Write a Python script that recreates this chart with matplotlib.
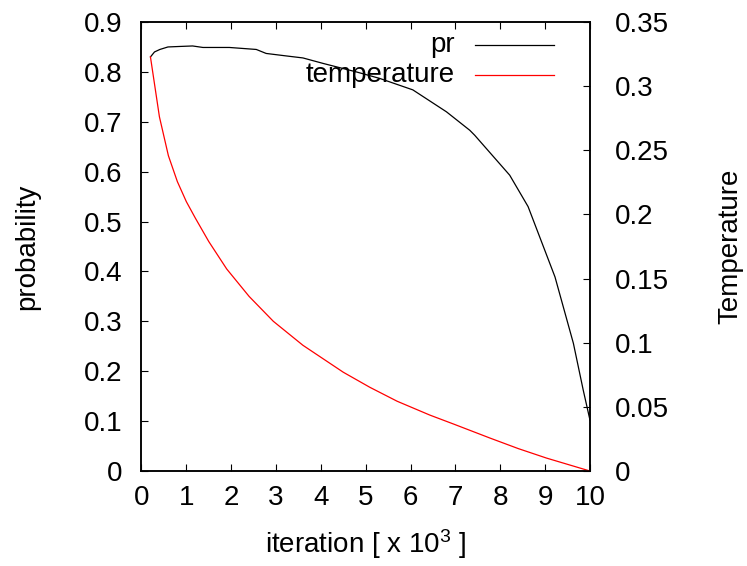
import matplotlib
matplotlib.use('Agg')
import matplotlib.pyplot as plt
from matplotlib.lines import Line2D

plt.rcParams['font.family'] = ['Liberation Sans', 'DejaVu Sans']
plt.rcParams['mathtext.fontset'] = 'custom'
plt.rcParams['mathtext.rm'] = 'Liberation Sans'
plt.rcParams['mathtext.it'] = 'Liberation Sans'
plt.rcParams['font.size'] = 20

# values (x in 10^3 iterations)
pr_x = [0.2, 0.29, 0.41, 0.59, 0.85, 1.14, 1.37, 1.96, 2.56, 2.78, 3.23, 3.6, 4.05,
        4.79, 5.31, 6.05, 6.8, 7.32, 7.43, 8.21, 8.62, 9.22, 9.63, 9.85, 10.0]
pr_y = [0.830, 0.840, 0.845, 0.850, 0.851, 0.852, 0.849, 0.849, 0.845, 0.837, 0.832,
        0.828, 0.817, 0.800, 0.787, 0.764, 0.720, 0.683, 0.673, 0.593, 0.530, 0.389,
        0.256, 0.162, 0.102]

temp_x = [0.2, 0.4, 0.6, 0.8, 1.0, 1.2, 1.5, 1.9, 2.4, 2.94, 3.6, 4.5, 5.09, 5.7,
          6.43, 6.96, 7.77, 8.4, 9.03, 10.0]
temp_y = [0.3228, 0.2761, 0.2458, 0.2256, 0.2100, 0.1972, 0.1789, 0.1575, 0.1361,
          0.1167, 0.0980, 0.0770, 0.0653, 0.0544, 0.0436, 0.0366, 0.0257, 0.0175,
          0.0101, 0.0]

xticks = list(range(0, 11))
yticks = [0, 0.1, 0.2, 0.3, 0.4, 0.5, 0.6, 0.7, 0.8, 0.9]
y2ticks = [0, 0.05, 0.1, 0.15, 0.2, 0.25, 0.3, 0.35]

fig = plt.figure(figsize=(7.47, 5.66), dpi=100)
ax = fig.add_axes([0.1894, 0.1678, 0.6004, 0.7933])
ax2 = ax.twinx()

ax.plot(pr_x, pr_y, color='black', lw=0.9)
ax2.plot(temp_x, temp_y, color='red', lw=0.9)

ax.set_xlim(0, 10)
ax.set_ylim(0, 0.9)
ax2.set_ylim(0, 0.35)
ax.set_xticks(xticks)
ax.set_xticklabels([str(t) for t in xticks])
ax.set_yticks(yticks)
ax.set_yticklabels(['0' if t == 0 else f'{t:g}' for t in yticks])
ax2.set_yticks(y2ticks)
ax2.set_yticklabels(['0' if t == 0 else f'{t:g}' for t in y2ticks])

ax.tick_params(axis='x', direction='in', length=5, width=0.8, pad=10, top=True)
ax.tick_params(axis='y', direction='in', length=5, width=0.8, pad=13.5)
ax2.tick_params(axis='y', direction='in', length=5, width=0.8, pad=18)
for a in (ax, ax2):
    for s in a.spines.values():
        s.set_linewidth(1.1)

ax.set_xlabel(r'iteration [ x 10$^{3}$ ]')
ax.xaxis.set_label_coords(0.5, -0.124)
ax.set_ylabel('probability')
ax.yaxis.set_label_coords(-0.226, 0.5)
ax2.set_ylabel('Temperature')
ax2.yaxis.set_label_coords(1.285, 0.5)

# gnuplot style key: text right aligned, sample to the right
for yy, name, col in [(0.9488, 'pr', 'black'), (0.882, 'temperature', 'red')]:
    ax.text(0.699, yy, name, transform=ax.transAxes, ha='right', va='center')
    ax.add_line(Line2D([0.7436, 0.9197], [yy, yy], transform=ax.transAxes,
                       color=col, lw=0.9))

fig.savefig('out.png', dpi=100)
